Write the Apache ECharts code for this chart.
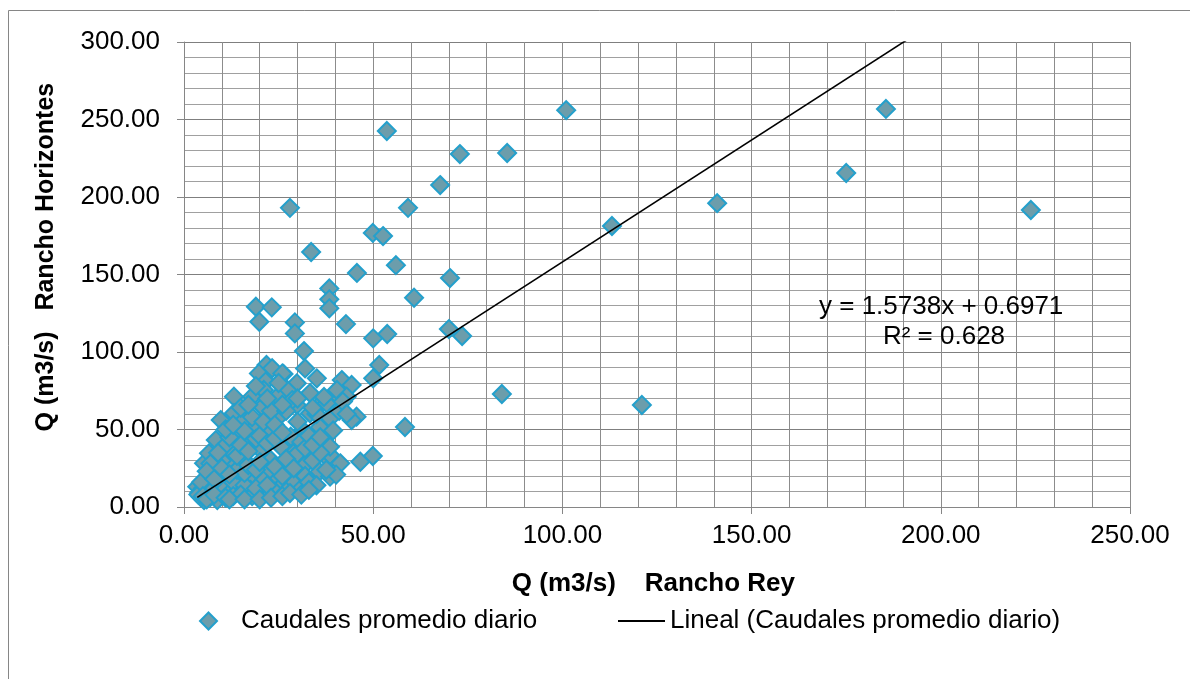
<!DOCTYPE html>
<html>
<head>
<meta charset="utf-8">
<script src="https://cdn.jsdelivr.net/npm/echarts@6/dist/echarts.min.js"></script>
<style>
html,body{margin:0;padding:0;background:#fff;}
#chart{width:1190px;height:679px;}
</style>
</head>
<body>
<div id="chart"></div>
<script>
// Q Rancho Rey (m3/s)
const rreyX = [
53.6,101,185.5,72.9,85.4,67.7,28,59.2,175,140.9,223.8,113.1,49.9,52.6,33.6,56,45.7,70.3,38.4,38.4,
38.4,60.8,42.8,70,73.5,53.7,50,19,23.2,19.9,29.3,29.3,31.7,51.6,50,84,121,58.4,49.9,46.6,
38.4,38.6,
21.8,26.3,32,35.1,41.7,44.3,29.8,33.3,36.8,39.9,40.4,43,37.7,29.8,33.3,38.6,45.6,44.3,31.5,35.9,
39.4,28.9,32.4,38.6,41.3,35.8,38.6,29.8,30.7,40.2,37.6,
19.8,23.3,26,21.6,13.2,18,21.1,27.3,20.7,24.7,28.6,13.2,9.7,15.9,25.1,18.9,8.4,13.2,22.9,28.2,
5.3,6.6,12.3,17.6,20.3,25.6,30,8.8,12.8,15.9,22.9,26.4,28.2,3.5,6.2,10.6,15,18.5,22,23.8,
4.4,7,9.7,14.1,17.6,21.1,25.6,29,5.3,8.8,
4,5,6,7,8,9,10,11,12,13,14,16,16,17,19,20,20,21,24,24,
26,27,27,29,31,32,33,34,35,36,10,11,12,14,15,16,17,18,19,20,
21,22,23,24,24,26,27,26,30,31,32,33,34,35,36,37,41,42,43,7,
9,11,13,15,17,19,22,25,30,34,3.8,4.5,6,8,10,12,5,6,8,11,
13,15,18,19,22,12,16,20,23,26,28,31,33
];
// Q Rancho Horizontes (m3/s)
const rhorY = [
242.6,256,256.8,227.7,228.4,207.7,193,193,215.5,196,191.6,181.3,176.8,174.8,164.5,156,151,147.7,141,134,
128.2,135,118,114.8,110.3,111.6,108.8,129.2,128.8,119.5,119.1,112,100.6,91.6,83,72.9,65.8,51.6,32.9,29.2,
30.3,33.5,
91.6,85.8,89.4,83,81.9,78.7,79.8,73.5,68.2,73.5,75.5,71.2,66.9,65.8,60.5,57.2,58.3,56.1,49.4,51.5,
49.4,34.6,28.2,38.9,28.2,22.8,19.6,21.7,17.5,20.9,24,
86.2,89.5,86.2,80.9,71.2,71.2,75.5,75.5,64.7,71.2,69,60.5,56.1,56.1,58.3,52,43.2,47.7,49.7,45.4,
28.2,34.6,36.8,43.2,36.8,38.9,34.6,23.9,28.2,30.3,30.3,26.1,17.5,13.1,19.6,15.3,19.6,17.5,21.8,15.3,
6.6,6.6,8.8,11,11,8.8,13.1,15.3,4.4,4.5,
9,12,10,14,12,17,20,12,9,16,24,14,22,27,24,13,29,17,10,26,
20,10,31,25,12,20,16,30,14,35,30,40,45,33,40,49,36,58,44,46,
55,41,62,44,53,48,62,66,55,42,38,46,40,60,45,71,62,68,60,28,
35,50,53,64,66,78,70,80,70,64,8,16,23,18,25,21,7,5,8,6,
7,8,7,12,14,5,5,5,6,7,9,8,11
];
// Trendline (Excel linear fit shown on the chart)
const trendSlope = 1.5738;
const trendIntercept = 0.6971;
const trendR2 = '0.628';
const xTicks = [0, 50, 100, 150, 200, 250];
const yTicks = [0, 50, 100, 150, 200, 250, 300];
const seriesName = 'Caudales promedio diario';
const trendName = 'Lineal (Caudales promedio diario)';

const FONT = '"Liberation Sans", Arial, sans-serif';
const points = rreyX.map((x, i) => [x, rhorY[i]]);
const xMin = Math.min(...rreyX), xMax = Math.max(...rreyX);
const trendPts = [[xMin, trendSlope * xMin + trendIntercept], [xMax, trendSlope * xMax + trendIntercept]];

const chart = echarts.init(document.getElementById('chart'), null, {renderer: 'canvas'});
chart.setOption({
  backgroundColor: '#ffffff',
  animation: false,
  textStyle: {fontFamily: FONT},
  grid: {left: 184, top: 42, width: 946, height: 465, containLabel: false, outerBoundsMode: 'none'},
  xAxis: {
    type: 'value', min: xTicks[0], max: xTicks[xTicks.length - 1], interval: 50,
    name: 'Q (m3/s)    Rancho Rey ', nameLocation: 'middle', nameGap: 64,
    nameTextStyle: {fontSize: 26, fontWeight: 'bold', color: '#000', fontFamily: FONT},
    axisLine: {show: true, lineStyle: {color: '#868686', width: 1}},
    axisTick: {show: true, inside: false, length: 7, lineStyle: {color: '#868686'}},
    axisLabel: {fontSize: 26, color: '#000', margin: 16, fontFamily: FONT, formatter: v => v.toFixed(2)},
    splitLine: {show: true, lineStyle: {color: '#8c8c8c', width: 1}},
    minorTick: {show: false, splitNumber: 5},
    minorSplitLine: {show: true, lineStyle: {color: '#8c8c8c', width: 1}}
  },
  yAxis: {
    type: 'value', min: yTicks[0], max: yTicks[yTicks.length - 1], interval: 50,
    name: '     Q (m3/s)   Rancho Horizontes', nameLocation: 'middle', nameGap: 125, nameRotate: 90,
    nameTextStyle: {fontSize: 25, fontWeight: 'bold', color: '#000', fontFamily: FONT},
    axisLine: {show: true, lineStyle: {color: '#868686', width: 1}},
    axisTick: {show: true, inside: false, length: 7, lineStyle: {color: '#868686'}},
    axisLabel: {fontSize: 26, color: '#000', margin: 24, fontFamily: FONT, formatter: v => v.toFixed(2)},
    splitLine: {show: true, lineStyle: {color: '#7f7f7f', width: 1}},
    minorTick: {show: false, splitNumber: 5},
    minorSplitLine: {show: true, lineStyle: {color: '#a0a0a0', width: 1}}
  },
  legend: [
    {data: [seriesName], left: 199, top: 608, padding: 0, itemWidth: 17, itemHeight: 17,
     textStyle: {fontSize: 26, color: '#000', fontFamily: FONT, padding: [0, 0, 0, 19]}},
    {data: [{name: trendName, icon: 'rect', itemStyle: {color: '#000', borderWidth: 0}}],
     left: 618, top: 608, padding: 0, itemWidth: 47, itemHeight: 2,
     textStyle: {fontSize: 26, color: '#000', fontFamily: FONT}}
  ],
  series: [
    {
      name: seriesName, type: 'scatter', symbol: 'diamond', symbolSize: 18,
      data: points,
      itemStyle: {color: '#6c9dab', borderColor: '#24a0cc', borderWidth: 2, opacity: 1},
      emphasis: {disabled: true}, z: 2
    },
    {
      name: trendName, type: 'line', data: trendPts, symbol: 'none', clip: true,
      lineStyle: {color: '#000', width: 1.6}, itemStyle: {color: '#000'},
      silent: true, z: 3
    }
  ],
  graphic: [
    {type: 'rect', silent: true, z: -1, shape: {x: 8.5, y: 10.5, width: 1300, height: 800},
     style: {fill: 'none', stroke: '#868686', lineWidth: 1}},
    {type: 'text', x: 819, y: 307, silent: true, z: 10,
     style: {text: 'y = ' + trendSlope + 'x + ' + trendIntercept, font: '26px ' + FONT, fill: '#000',
             textAlign: 'left', textVerticalAlign: 'middle'}},
    {type: 'text', x: 944, y: 337, silent: true, z: 10,
     style: {text: 'R² = ' + trendR2, font: '26px ' + FONT, fill: '#000',
             textAlign: 'center', textVerticalAlign: 'middle'}}
  ]
});
</script>
</body>
</html>
